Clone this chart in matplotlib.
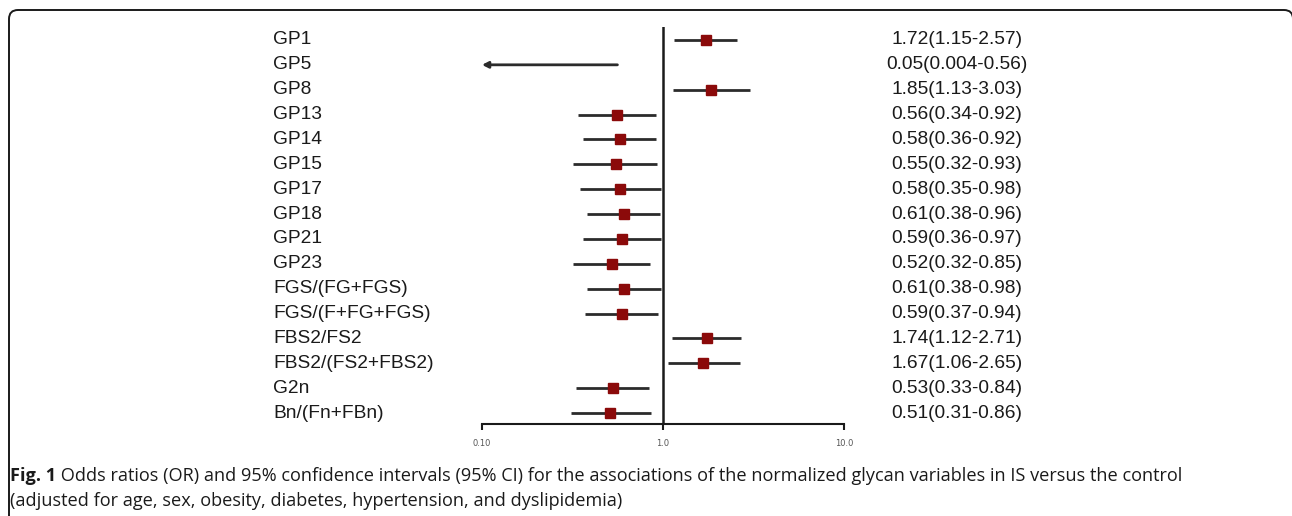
import numpy as np
import matplotlib
matplotlib.use("Agg")
import matplotlib.pyplot as plt
from matplotlib.patches import FancyBboxPatch
from matplotlib.transforms import blended_transform_factory, IdentityTransform

# forest plot data (OR and 95% CI)
names = ["GP1", "GP5", "GP8", "GP13", "GP14", "GP15", "GP17", "GP18", "GP21",
         "GP23", "FGS/(FG+FGS)", "FGS/(F+FG+FGS)", "FBS2/FS2",
         "FBS2/(FS2+FBS2)", "G2n", "Bn/(Fn+FBn)"]
odds = [1.72, 0.05, 1.85, 0.56, 0.58, 0.55, 0.58, 0.61, 0.59, 0.52, 0.61,
        0.59, 1.74, 1.67, 0.53, 0.51]
ci_lo = [1.15, 0.004, 1.13, 0.34, 0.36, 0.32, 0.35, 0.38, 0.36, 0.32, 0.38,
         0.37, 1.12, 1.06, 0.33, 0.31]
ci_hi = [2.57, 0.56, 3.03, 0.92, 0.92, 0.93, 0.98, 0.96, 0.97, 0.85, 0.98,
         0.94, 2.71, 2.65, 0.84, 0.86]
or_text = ["1.72(1.15-2.57)", "0.05(0.004-0.56)", "1.85(1.13-3.03)",
           "0.56(0.34-0.92)", "0.58(0.36-0.92)", "0.55(0.32-0.93)",
           "0.58(0.35-0.98)", "0.61(0.38-0.96)", "0.59(0.36-0.97)",
           "0.52(0.32-0.85)", "0.61(0.38-0.98)", "0.59(0.37-0.94)",
           "1.74(1.12-2.71)", "1.67(1.06-2.65)", "0.53(0.33-0.84)",
           "0.51(0.31-0.86)"]
xticks = [0.1, 1.0, 10.0]
xtick_labels = ["0.10", "1.0", "10.0"]

W, H = 1292, 516
fig = plt.figure(figsize=(W / 100, H / 100), dpi=100)

# rounded frame around the figure panel (pixel coords, runs off bottom/right)
frame = FancyBboxPatch((9, -40), 1284, H - 10 + 40,
                       boxstyle="round,pad=0,rounding_size=9",
                       transform=IdentityTransform(), fill=False,
                       edgecolor="#1a1a1a", linewidth=1.4)
fig.patches.append(frame)

ax = fig.add_axes([482 / W, (H - 424) / H, 362 / W, 397 / H])
ax.set_xscale("log")
xmin, xmax = 0.1, 10.0
ax.set_xlim(xmin, xmax)
ax.set_ylim(-15.442, 0.521)

line_col = "#2b2b2b"
box_col = "#8b0a0a"
ys = -np.arange(len(names))

for y, o, lo, hi in zip(ys, odds, ci_lo, ci_hi):
    if lo < xmin:
        ax.annotate("", xy=(xmin, y), xytext=(hi, y),
                    arrowprops=dict(arrowstyle="-|>,head_length=0.35,head_width=0.18",
                                    color=line_col, lw=2, shrinkA=0, shrinkB=0))
    else:
        ax.plot([lo, hi], [y, y], color=line_col, lw=2, solid_capstyle="butt")
    if o >= xmin:
        ax.plot(o, y, marker="s", ms=7, color=box_col, mec=box_col)

ax.axvline(1.0, color="#1a1a1a", lw=1.8, ymax=1.0)

for s in ["top", "right", "left"]:
    ax.spines[s].set_visible(False)
ax.spines["bottom"].set_color("#1a1a1a")
ax.spines["bottom"].set_linewidth(1.5)
ax.set_yticks([])
ax.set_xticks(xticks)
ax.set_xticklabels(xtick_labels)
ax.minorticks_off()
ax.tick_params(axis="x", length=4, width=1.5, color="#1a1a1a",
               labelsize=6, labelcolor="#555555", pad=7)

tr = blended_transform_factory(fig.transFigure, ax.transData)
for y, n, t in zip(ys, names, or_text):
    ax.text(273 / W, y, n, transform=tr, ha="left", va="center",
            fontsize=13.8, family="Liberation Sans", color="#1a1a1a", clip_on=False)
    ax.text(957 / W, y, t, transform=tr, ha="center", va="center",
            fontsize=13.8, family="Liberation Sans", color="#1a1a1a", clip_on=False)

# caption
cap_font = ["Open Sans", "DejaVu Sans"]
cap_size = 13.1
t1 = fig.text(10 / W, 1 - 476 / H, "Fig. 1", fontsize=cap_size, fontweight="bold",
              family=cap_font, va="center", ha="left", color="#1a1a1a")
fig.canvas.draw()
bb = t1.get_window_extent()
fig.text(bb.x1 / W, 1 - 476 / H,
         " Odds ratios (OR) and 95% confidence intervals (95% CI) for the associations of the "
         "normalized glycan variables in IS versus the control",
         fontsize=cap_size, family=cap_font, va="center", ha="left", color="#1a1a1a")
fig.text(10 / W, 1 - 501 / H,
         "(adjusted for age, sex, obesity, diabetes, hypertension, and dyslipidemia)",
         fontsize=cap_size, family=cap_font, va="center", ha="left", color="#1a1a1a")

fig.savefig("out.png", dpi=100)
